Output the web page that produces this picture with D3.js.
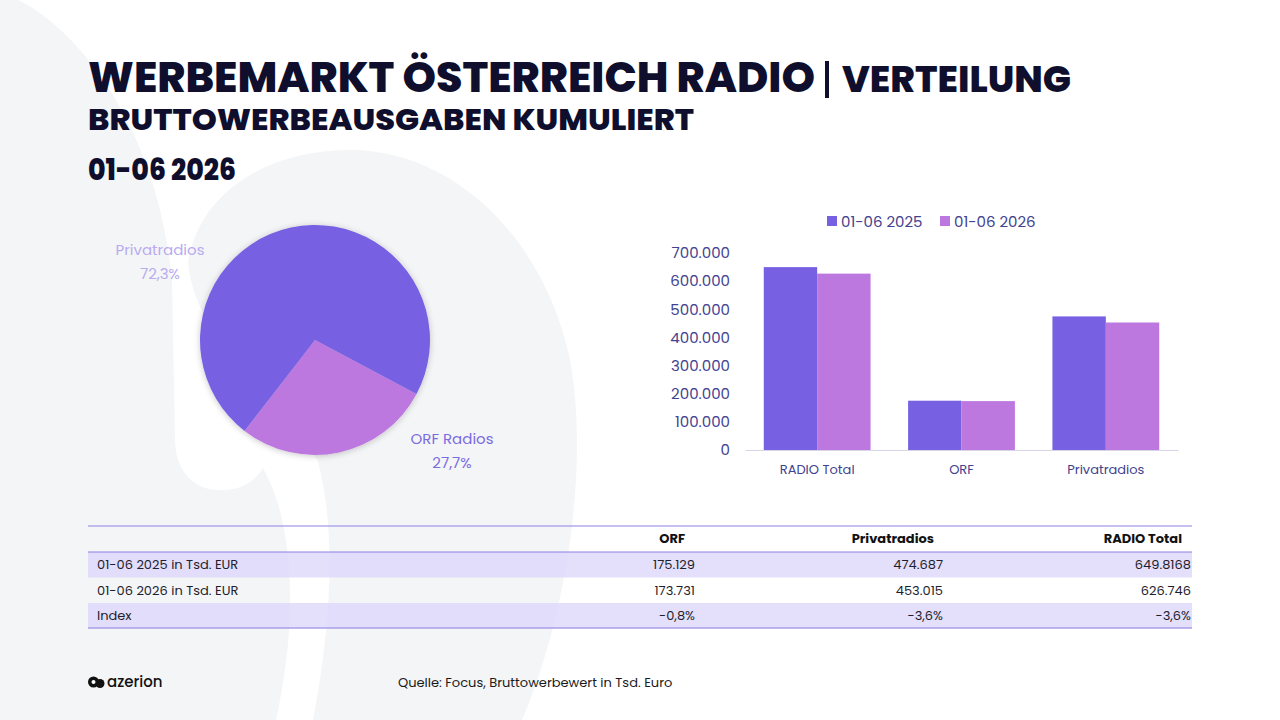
<!DOCTYPE html>
<html>
<head>
<meta charset="utf-8">
<script src="https://cdn.jsdelivr.net/npm/d3@7"></script>
<style>
  html, body { margin: 0; padding: 0; background: #fff; }
  svg { display: block; }
</style>
</head>
<body>
<div id="chart"></div>
<script>
// Data
const categories = ['RADIO Total', 'ORF', 'Privatradios'];
const seriesNames = ['01-06 2025', '01-06 2026'];
const values2025 = [649816.8, 175129, 474687];
const values2026 = [626746, 173731, 453015];
const yTicks = [0, 100000, 200000, 300000, 400000, 500000, 600000, 700000];

const pieNames = ['ORF Radios', 'Privatradios'];
const pieValues = [173731, 453015];
const pieShares = ['27,7%', '72,3%'];

const tableColumns = ['ORF', 'Privatradios', 'RADIO Total'];
const tableRowLabels = ['01-06 2025 in Tsd. EUR', '01-06 2026 in Tsd. EUR', 'Index'];
const tableCells = [
    ['175.129', '474.687', '649.8168'],
    ['173.731', '453.015', '626.746'],
    ['-0,8%', '-3,6%', '-3,6%']
];

const width = 1280, height = 720;
const colors = ['#7860e3', '#bd78e0'];
const pieColors = ['#bd78e0', '#7860e3'];
const navy = '#0f0f2d';
const axisText = '#42428f';
const bodyFont = 'Poppins, Inter, "Open Sans", sans-serif';

const svg = d3.select('#chart')
    .append('svg')
    .attr('width', width)
    .attr('height', height);

// Background decoration shapes
const bg = svg.append('g').attr('fill', '#f4f5f7');
bg.append('path')
    .attr('d', 'M0,0 L18,0 C80,30 158,130 172,280 L175,440 C176,476 198,492 225,490 C245,489 257,478 263,468 C292,520 300,610 276,720 L0,720 Z');
bg.append('path')
    .attr('d', 'M313,720 C332,620 336,530 318,462 C290,400 196,350 188,262 C200,190 270,150 350,150 C455,150 545,240 570,360 C590,470 565,620 522,720 Z');

// Title (one text block with two lines)
const title = svg.append('g').attr('fill', navy).attr('font-family', bodyFont).attr('font-weight', 800);
const titleText = title.append('text');
titleText.append('tspan').attr('x', 88).attr('y', 92).attr('font-size', 42)
    .attr('textLength', 727).attr('lengthAdjust', 'spacingAndGlyphs')
    .text('WERBEMARKT ÖSTERREICH RADIO');
titleText.append('tspan').attr('x', 842).attr('y', 92).attr('font-size', 36)
    .attr('textLength', 229).attr('lengthAdjust', 'spacingAndGlyphs')
    .text('VERTEILUNG');
titleText.append('tspan').attr('x', 88).attr('y', 130).attr('font-size', 30)
    .attr('textLength', 606).attr('lengthAdjust', 'spacingAndGlyphs')
    .text('BRUTTOWERBEAUSGABEN KUMULIERT');
title.append('rect').attr('x', 825).attr('y', 61).attr('width', 4).attr('height', 37);
title.append('text').attr('x', 88).attr('y', 180).attr('font-size', 29)
    .attr('textLength', 148).attr('lengthAdjust', 'spacingAndGlyphs')
    .text('01-06 2026');

// Pie chart
const defs = svg.append('defs');
const shadow = defs.append('filter').attr('id', 'pieShadow')
    .attr('x', '-20%').attr('y', '-20%').attr('width', '140%').attr('height', '140%');
shadow.append('feDropShadow')
    .attr('dx', 0).attr('dy', 1).attr('stdDeviation', 3)
    .attr('flood-color', '#000').attr('flood-opacity', 0.22);

const pieCx = 315, pieCy = 340, pieR = 115;
const pie = d3.pie().sort(null)
    .startAngle(118 * Math.PI / 180)
    .endAngle(118 * Math.PI / 180 + 2 * Math.PI);
const arc = d3.arc().innerRadius(0).outerRadius(pieR);
const pieData = pie(pieValues);

const pieG = svg.append('g')
    .attr('transform', `translate(${pieCx},${pieCy})`)
    .attr('filter', 'url(#pieShadow)');
pieG.selectAll('path')
    .data(pieData)
    .join('path')
    .attr('d', arc)
    .attr('fill', (d, i) => pieColors[i]);

// Label positions relative to pie centre (layout offsets)
const labelOffsets = [[137, 99], [-155, -90]];
const labelColors = ['#7b6be0', '#b9abef'];
const pieLabels = svg.append('g')
    .attr('font-family', bodyFont)
    .attr('font-size', 15)
    .attr('text-anchor', 'middle');
pieData.forEach((d, i) => {
    const lx = pieCx + labelOffsets[i][0];
    const ly = pieCy + labelOffsets[i][1];
    pieLabels.append('text').attr('x', lx).attr('y', ly + 5)
        .attr('fill', labelColors[i]).text(pieNames[i]);
    pieLabels.append('text').attr('x', lx).attr('y', ly + 29)
        .attr('fill', labelColors[i]).text(pieShares[i]);
});

// Bar chart
const de = d3.formatLocale({ decimal: ',', thousands: '.', grouping: [3], currency: ['', ' €'] });
const fmt = de.format(',.0f');

const x0 = d3.scaleBand()
    .domain(categories)
    .range([745, 1178])
    .paddingInner(0.26)
    .paddingOuter(0.13);
const x1 = d3.scaleBand()
    .domain(seriesNames)
    .range([0, x0.bandwidth()]);
const y = d3.scaleLinear()
    .domain([0, 700000])
    .range([450, 253]);

const barData = categories.map((c, i) => ({
    category: c,
    values: [
        { series: seriesNames[0], value: values2025[i] },
        { series: seriesNames[1], value: values2026[i] }
    ]
}));

svg.append('g')
    .selectAll('g')
    .data(barData)
    .join('g')
    .attr('transform', d => `translate(${x0(d.category)},0)`)
    .selectAll('rect')
    .data(d => d.values)
    .join('rect')
    .attr('x', d => x1(d.series))
    .attr('y', d => y(d.value))
    .attr('width', x1.bandwidth())
    .attr('height', d => y(0) - y(d.value))
    .attr('fill', (d, i) => colors[i]);

// Y axis (labels only)
const yAxis = svg.append('g')
    .attr('transform', 'translate(730,0)')
    .call(d3.axisLeft(y).tickValues(yTicks).tickFormat(fmt).tickSize(0).tickPadding(0));
yAxis.select('.domain').remove();
yAxis.selectAll('text')
    .attr('fill', axisText)
    .attr('font-family', bodyFont)
    .attr('font-size', 15);

// X axis
const xAxis = svg.append('g')
    .attr('transform', `translate(0,${y(0)})`)
    .call(d3.axisBottom(x0).tickSize(0).tickPadding(15));
xAxis.select('.domain').attr('stroke', '#d6d6e6');
xAxis.selectAll('text')
    .attr('fill', axisText)
    .attr('font-family', bodyFont)
    .attr('font-size', 13);

// Legend
const legend = svg.append('g')
    .attr('font-family', bodyFont)
    .attr('font-size', 15)
    .attr('fill', axisText);
const legendX = [827, 940];
seriesNames.forEach((s, i) => {
    legend.append('rect')
        .attr('x', legendX[i]).attr('y', 216)
        .attr('width', 10).attr('height', 10)
        .attr('fill', colors[i]);
    legend.append('text')
        .attr('x', legendX[i] + 14).attr('y', 226.5)
        .text(s);
});

// Table
const table = svg.append('g').attr('font-family', bodyFont).attr('font-size', 13).attr('fill', '#1e1e2e');
const tableLeft = 88, tableRight = 1192;
const rowTops = [552, 578, 603];
const rowH = 25.5;
const colRight = [695, 943, 1191];
const headRight = [685, 934, 1182];

table.selectAll('rect.band')
    .data(tableRowLabels)
    .join('rect')
    .attr('class', 'band')
    .attr('x', tableLeft)
    .attr('y', (d, i) => rowTops[i])
    .attr('width', tableRight - tableLeft)
    .attr('height', rowH)
    .attr('fill', (d, i) => i % 2 === 0 ? '#ddd7fa' : 'none')
    .attr('fill-opacity', 0.8);

[526, 552, 628].forEach(ly => {
    table.append('line')
        .attr('x1', tableLeft).attr('x2', tableRight)
        .attr('y1', ly).attr('y2', ly)
        .attr('stroke', '#8d80e2').attr('stroke-width', 1.2);
});

table.selectAll('text.head')
    .data(tableColumns)
    .join('text')
    .attr('class', 'head')
    .attr('x', (d, i) => headRight[i])
    .attr('y', 543)
    .attr('text-anchor', 'end')
    .attr('font-weight', 700)
    .attr('fill', '#111')
    .text(d => d);

table.selectAll('text.rowlabel')
    .data(tableRowLabels)
    .join('text')
    .attr('class', 'rowlabel')
    .attr('x', 97)
    .attr('y', (d, i) => rowTops[i] + 17)
    .text(d => d);

tableCells.forEach((row, r) => {
    table.selectAll(`text.cell${r}`)
        .data(row)
        .join('text')
        .attr('class', `cell${r}`)
        .attr('x', (d, i) => colRight[i])
        .attr('y', rowTops[r] + 17)
        .attr('text-anchor', 'end')
        .text(d => d);
});

// Footer
const footer = svg.append('g').attr('font-family', bodyFont).attr('fill', '#1a1a1a');
footer.append('text')
    .attr('x', 398).attr('y', 687)
    .attr('font-size', 13)
    .text('Quelle: Focus, Bruttowerbewert in Tsd. Euro');

// azerion logo
const logo = footer.append('g').attr('transform', 'translate(88,682)');
logo.append('circle').attr('cx', 5.5).attr('cy', 0).attr('r', 5.5).attr('fill', '#111');
logo.append('circle').attr('cx', 12).attr('cy', 1.5).attr('r', 4.5).attr('fill', '#111');
logo.append('circle').attr('cx', 5.5).attr('cy', 0).attr('r', 2).attr('fill', '#fff');
logo.append('text')
    .attr('x', 19).attr('y', 5)
    .attr('font-size', 15)
    .attr('font-weight', 500)
    .attr('fill', '#111')
    .text('azerion');
</script>
</body>
</html>
